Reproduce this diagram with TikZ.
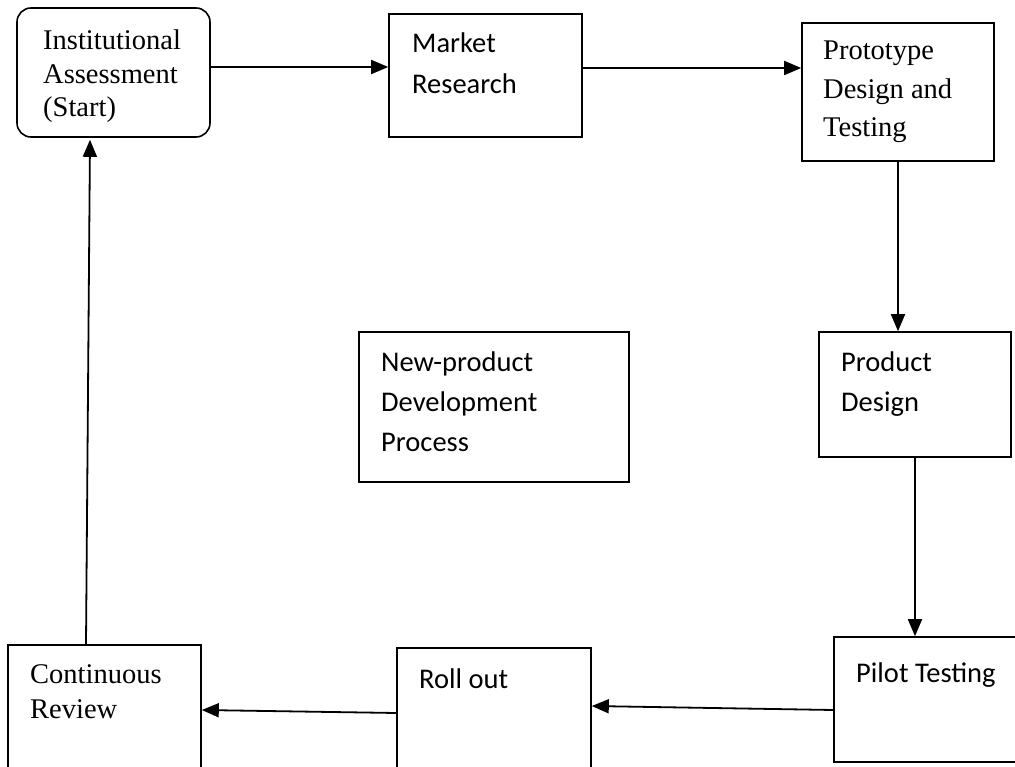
\documentclass[tikz,border=0pt]{standalone}
\usepackage{fontspec}
\newfontfamily\romanface{Liberation Serif}
\newfontfamily\calface{Carlito}
\usetikzlibrary{arrows.meta}
% stacked, left-aligned lines whose reference point is the first baseline
\newcommand\boxlines[1]{\begin{tabular}[t]{@{}l@{}}#1\end{tabular}}
\begin{document}
\begin{tikzpicture}[x=1pt,y=-1pt,
  stage/.style={draw=black, line width=1.6pt, rectangle, inner sep=0pt},
  flow/.style={draw=black, line width=1.8pt, -{Triangle[length=17pt,width=14pt]}},
  serifline/.style={anchor=base west, inner sep=0pt, font={\romanface\fontsize{28.5}{#1}\selectfont}},
  sansline/.style={anchor=base west, inner sep=0pt, font={\calface\fontsize{28.5}{#1}\selectfont}}]
\useasboundingbox (0,0) rectangle (1015,767);
\clip (0,0) rectangle (1015,767);

% process stages
\node[stage, rounded corners=14pt, minimum width=193pt, minimum height=129pt] (b1) at (113.5,72.5) {};
\node[stage, minimum width=193pt, minimum height=123pt] (b2) at (485.5,75.5) {};
\node[stage, minimum width=192pt, minimum height=138pt] (b3) at (898,92) {};
\node[stage, minimum width=192pt, minimum height=125pt] (b4) at (915,394.5) {};
\node[stage, minimum width=270pt, minimum height=150pt] (b5) at (494,407) {};
\node[stage, minimum width=192pt, minimum height=125pt] (b6) at (930,699.5) {};
\node[stage, minimum width=194pt, minimum height=130pt] (b7) at (494,713) {};
\node[stage, minimum width=193pt, minimum height=130pt] (b8) at (104.5,710) {};

% labels
\node[serifline=33.5] (t1) at (43,50) {\boxlines{Institutional\\Assessment\\(Start)}};
\node[sansline=41] (t2) at (412,53) {\boxlines{Market\\Research}};
\node[serifline=38.5] (t3) at (823,60) {\boxlines{Prototype\\Design and\\Testing}};
\node[sansline=40] (t4) at (841,371) {\boxlines{Product\\Design}};
\node[sansline=40] (t5) at (381,371) {\boxlines{New-product\\Development\\Process}};
\node[sansline=40] (t6) at (856,682) {Pilot Testing};
\node[sansline=40] (t7) at (419,688) {Roll out};
\node[serifline=35] (t8) at (30,683) {\boxlines{Continuous\\Review}};

% flow between stages
\draw[flow] (b1.east |- 0,67) -- (b2.west |- 0,67);
\draw[flow] (b2.east |- 0,68) -- (b3.west |- 0,68);
\draw[flow] (b3.south) -- (b3.south |- b4.north);
\draw[flow] (b4.south) -- (b4.south |- b6.north);
\draw[flow] (b6.west |- 0,710) -- (b7.east |- 0,706);
\draw[flow] (b7.west |- 0,713) -- (b8.east |- 0,710);
\draw[flow] (b8.north -| 86,0) -- ([yshift=-2pt]b1.south -| 90,0);
\end{tikzpicture}
\end{document}
